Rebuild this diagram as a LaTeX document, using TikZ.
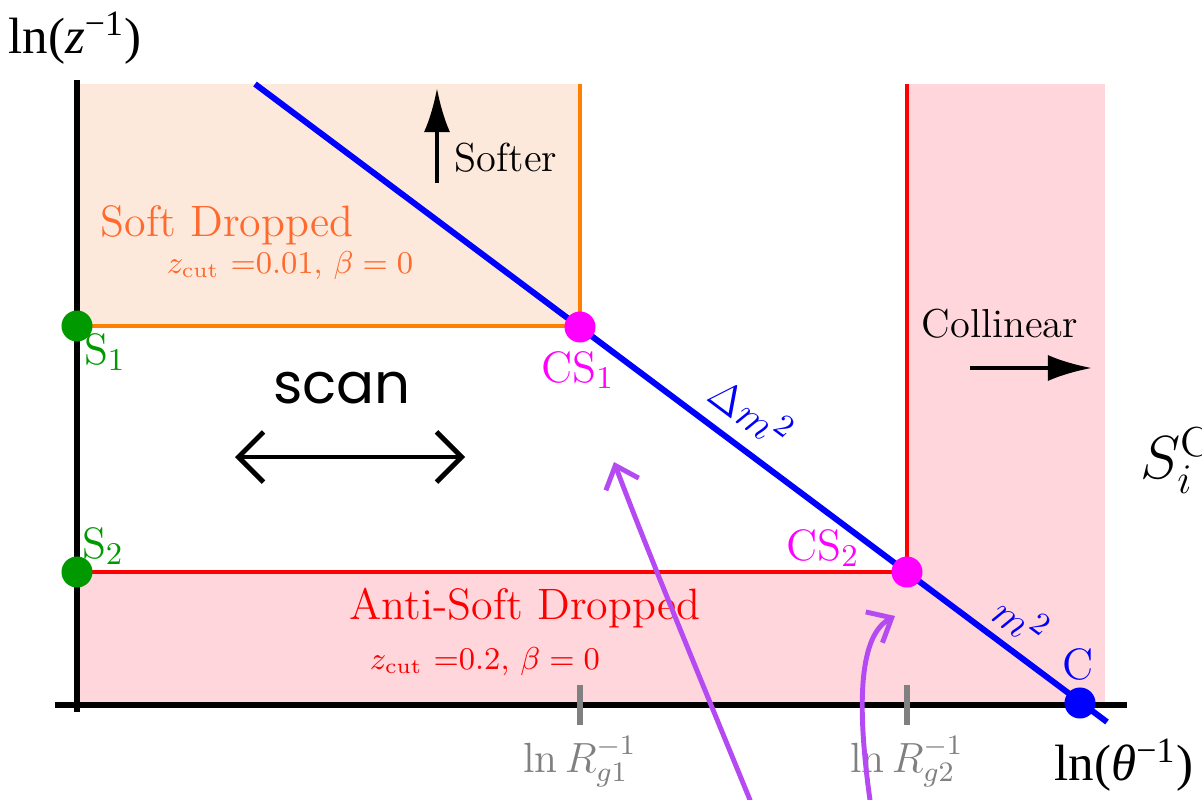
\documentclass[tikz,border=0pt]{standalone}
\usepackage{fontspec}
\newfontfamily\timesfont{Liberation Serif}
\newfontfamily\handfont{Poppins}
\usetikzlibrary{arrows.meta,positioning}

\definecolor{sdorange}{HTML}{FF8000}
\definecolor{sdtext}{HTML}{FF6A2E}
\definecolor{sdfill}{HTML}{FDE9DB}
\definecolor{asdfill}{HTML}{FFD6DC}
\definecolor{scgreen}{HTML}{009900}
\definecolor{csmag}{HTML}{FF00FF}
\definecolor{tickgray}{HTML}{808080}
\definecolor{penpurple}{HTML}{B54AF2}

\begin{document}
\begin{tikzpicture}[x=0.01cm,y=-0.01cm,
  ptdot/.style={circle,fill=#1,inner sep=0pt,minimum size=3.1mm},
  bigtxt/.style={font=\fontsize{12.5}{15}\selectfont},
  midtxt/.style={font=\fontsize{11.5}{14}\selectfont},
  smalltxt/.style={font=\fontsize{9}{11}\selectfont},
  axlbl/.style={font=\timesfont\fontsize{14.5}{17}\selectfont},
  fatarrow/.style={line width=1.2pt,-{Latex[length=4.4mm,width=2.6mm]}},
  pen/.style={penpurple,line width=1.4pt,line cap=round,-{Straight Barb[length=2mm,width=3.5mm]}}
]
\clip (0,0) rectangle (1202,800);

% ============================
% REGIONS
% ============================

\fill[sdfill] (77,84) rectangle (580,326);
\fill[asdfill] (77,572) rectangle (1105,705);
\fill[asdfill] (907,84) rectangle (1105,572);

\draw[sdorange,line width=1.3pt] (77,326) -- (580,326) -- (580,84);
\draw[red,line width=1.3pt] (77,572) -- (907,572) -- (907,84);

% ============================
% AXES
% ============================

\draw[line width=1.6pt] (77,80) -- (77,712);
\draw[line width=1.6pt] (55,705) -- (1127,705);

\draw[tickgray,line width=1.6pt] (580,685) -- (580,725);
\draw[tickgray,line width=1.6pt] (907,685) -- (907,725);

\node[axlbl] (ylab) at (75,38) {ln(\textit{z}\textsuperscript{−1})};
\node[axlbl] (xlab) at (1124,765) {ln(\textit{θ}\textsuperscript{−1})};
\node[font=\fontsize{12}{14}\selectfont,text=tickgray] (rg1) at (580,762) {$\ln R_{g1}^{-1}$};
\node[font=\fontsize{12}{14}\selectfont,text=tickgray] (rg2) at (907,762) {$\ln R_{g2}^{-1}$};

% ============================
% MASS LINE
% ============================

\coordinate (mtop) at (255,84);
\coordinate (mend) at (1107,722);
\draw[blue,line width=1.7pt] (mtop) -- (mend);

\node[bigtxt,text=blue,rotate=-36.8] (dm2) at (752,412) {$\Delta m^2$};
\node[bigtxt,text=blue,rotate=-36.8] (m2) at (1022,620) {$m^2$};

% ============================
% POINTS
% ============================

\node[ptdot=scgreen] (S1) at (77,326) {};
\node[ptdot=scgreen] (S2) at (77,572) {};
\node[ptdot=csmag] (CS1) at (580,327) {};
\node[ptdot=csmag] (CS2) at (907,572) {};
\node[ptdot=blue] (C) at (1080,703) {};

\node[bigtxt,text=scgreen] at (105,352) {S$_1$};
\node[bigtxt,text=scgreen] at (103,546) {S$_2$};
\node[bigtxt,text=csmag] at (578,370) {CS$_1$};
\node[bigtxt,text=csmag] at (823,548) {CS$_2$};
\node[bigtxt,text=blue] at (1078,664) {C};

% ============================
% LABELS
% ============================

\node[bigtxt,text=sdtext] (sdname) at (227,225) {Soft Dropped};
\node[smalltxt,text=sdtext] (sdcut) at (290,266) {$z_{\mathrm{cut}}$ =0.01, $\beta=0$};
\node[bigtxt,text=red] (asdname) at (525,608) {Anti-Soft Dropped};
\node[smalltxt,text=red] (asdcut) at (485,662) {$z_{\mathrm{cut}}$ =0.2, $\beta=0$};

\coordinate (softlo) at (437,183);
\coordinate (softhi) at (437,88);
\draw[fatarrow] (softlo) -- (softhi);
\node[midtxt] (softer) at (506,158) {Softer};

\node[midtxt] (coll) at (1000,324) {Collinear};
\coordinate (colllo) at (970,368);
\coordinate (collhi) at (1092,368);
\draw[fatarrow] (colllo) -- (collhi);

\node[font=\fontsize{17}{19}\selectfont,anchor=west,inner sep=0pt] (scs) at (1140,460) {$S_i^{\mathrm{CI}}$};

% ============================
% HAND NOTES
% ============================

\node[font=\handfont\fontsize{16}{18}\selectfont] (scan) at (342,388) {scan};
\coordinate (scanL) at (235,457);
\coordinate (scanR) at (465,457);
\draw[line width=1.4pt,line cap=round,{Straight Barb[length=2.5mm,width=5mm]}-{Straight Barb[length=2.5mm,width=5mm]}] (scanL) -- (scanR);

\coordinate (penA0) at (750,800);
\coordinate (penA1) at (614,462);
\draw[pen] (penA0) .. controls (705,690) and (645,545) .. (penA1);
\coordinate (penB0) at (870,800);
\coordinate (penB1) at (895,616);
\draw[pen] (penB0) .. controls (856,700) and (860,635) .. (penB1);

\end{tikzpicture}
\end{document}
